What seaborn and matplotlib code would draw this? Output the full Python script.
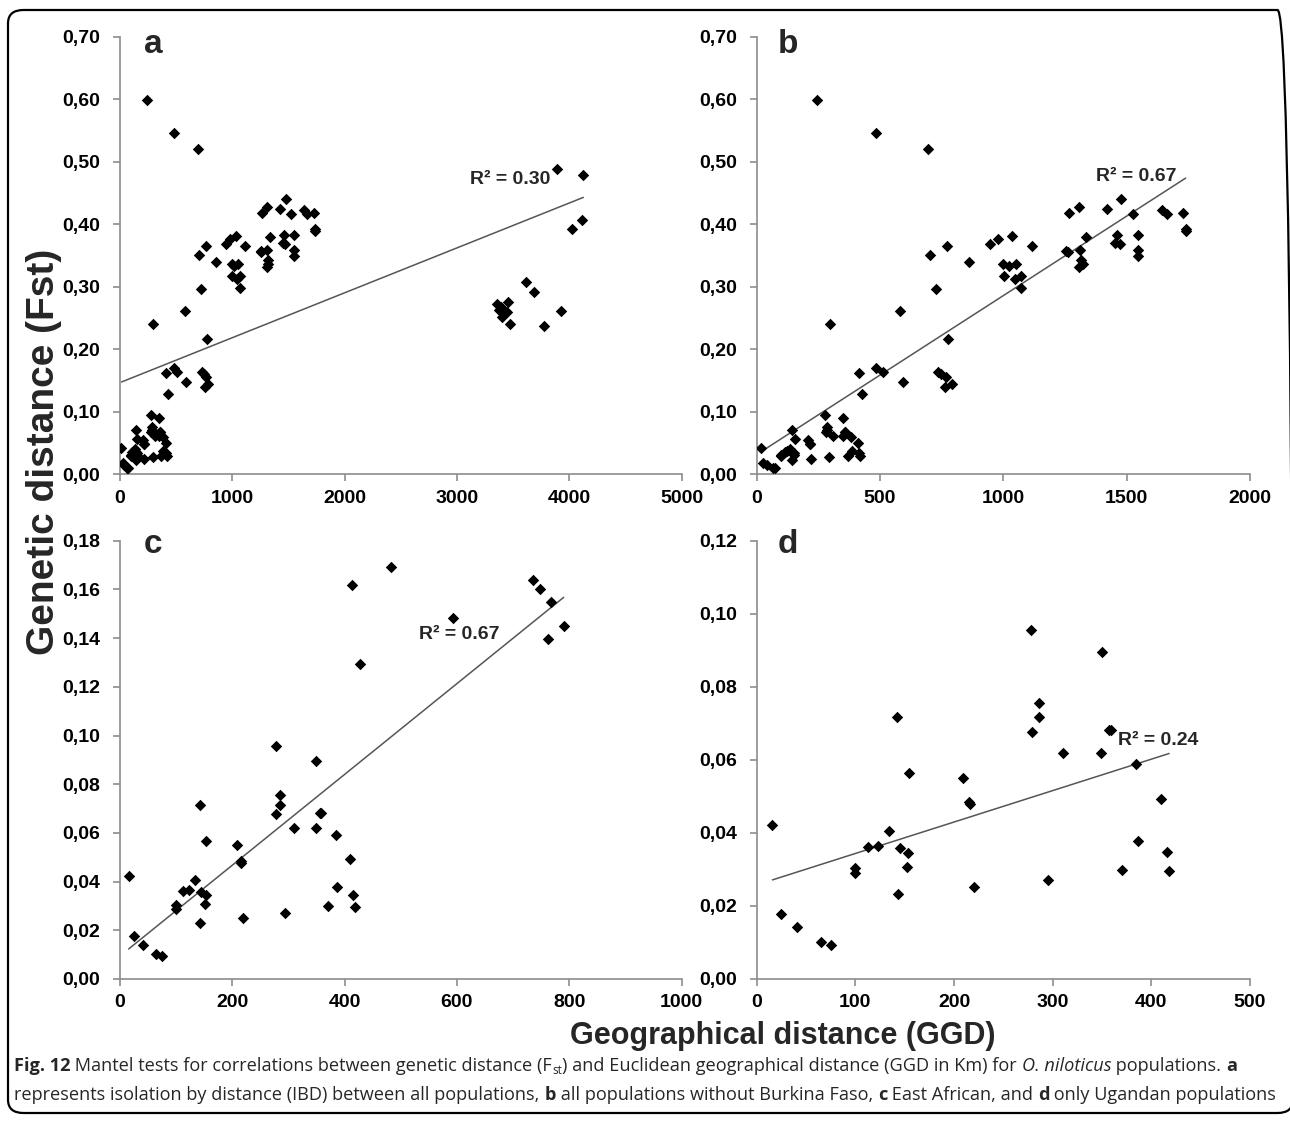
import matplotlib
matplotlib.use("Agg")
import matplotlib.pyplot as plt
from matplotlib.patches import FancyBboxPatch
import seaborn as sns

sns.set_style("ticks")
plt.rcParams['font.family'] = ['Liberation Sans', 'DejaVu Sans']

# panel d: Ugandan populations
d_x = [16, 25, 41, 65, 75, 100, 100, 113, 123, 134, 142, 143, 145, 153, 152, 154, 209, 215,
       216, 220, 278, 279, 286, 286, 295, 310, 349, 350, 357, 359, 370, 384, 386, 410, 416, 418]
d_y = [0.0422, 0.0177, 0.0141, 0.0102, 0.0093, 0.0303, 0.0289, 0.0362, 0.0365, 0.0405, 0.0716,
       0.0232, 0.0358, 0.0344, 0.0308, 0.0565, 0.0549, 0.0484, 0.0478, 0.0251, 0.0955, 0.0677,
       0.0716, 0.0756, 0.0271, 0.0620, 0.0620, 0.0896, 0.0682, 0.0683, 0.0298, 0.0590, 0.0379,
       0.0493, 0.0347, 0.0296]

# extra pairs for panel c (East African)
c_extra_x = [413, 428, 483, 593, 736, 748, 767, 762, 790]
c_extra_y = [0.1618, 0.1292, 0.1693, 0.1484, 0.1639, 0.1600, 0.1550, 0.1395, 0.1451]

# extra pairs for panel b (all without Burkina Faso)
b_extra_x = [245, 482, 693, 298, 581, 726, 703, 772, 861, 945, 979, 1037, 998, 1021, 1050, 1002,
             1047, 1070, 1070, 1116, 1254, 1261, 1265, 1307, 1312, 1307, 1323, 1315, 1335, 1422,
             1476, 1460, 1453, 1472, 1524, 1547, 1547, 1547, 1644, 1662, 1728, 1739, 1739, 777, 512]
b_extra_y = [0.598, 0.546, 0.520, 0.240, 0.261, 0.297, 0.351, 0.365, 0.340, 0.369, 0.377, 0.381,
             0.337, 0.333, 0.337, 0.318, 0.313, 0.317, 0.298, 0.365, 0.357, 0.355, 0.418, 0.428,
             0.359, 0.332, 0.337, 0.343, 0.379, 0.425, 0.441, 0.383, 0.370, 0.368, 0.417, 0.383,
             0.359, 0.349, 0.422, 0.417, 0.418, 0.393, 0.389, 0.216, 0.163]

# extra pairs for panel a (Burkina Faso pairs)
a_extra_x = [3895, 4125, 4115, 4027, 3617, 3682, 3925, 3771, 3361, 3394, 3377, 3410, 3459, 3443, 3404, 3469]
a_extra_y = [0.488, 0.479, 0.407, 0.392, 0.308, 0.292, 0.262, 0.238, 0.273, 0.267, 0.263, 0.259,
             0.275, 0.260, 0.252, 0.241]

c_x = d_x + c_extra_x
c_y = d_y + c_extra_y
b_x = c_x + b_extra_x
b_y = c_y + b_extra_y
a_x = b_x + a_extra_x
a_y = b_y + a_extra_y

r2_labels = ["R² = 0.30", "R² = 0.67", "R² = 0.67", "R² = 0.24"]
panel_letters = ["a", "b", "c", "d"]

yt_ab = [0, 0.1, 0.2, 0.3, 0.4, 0.5, 0.6, 0.7]
yl_ab = ["0,00", "0,10", "0,20", "0,30", "0,40", "0,50", "0,60", "0,70"]
yt_c = [0, 0.02, 0.04, 0.06, 0.08, 0.10, 0.12, 0.14, 0.16, 0.18]
yl_c = ["0,00", "0,02", "0,04", "0,06", "0,08", "0,10", "0,12", "0,14", "0,16", "0,18"]
yt_d = [0, 0.02, 0.04, 0.06, 0.08, 0.10, 0.12]
yl_d = ["0,00", "0,02", "0,04", "0,06", "0,08", "0,10", "0,12"]
xt_a = [0, 1000, 2000, 3000, 4000, 5000]
xt_b = [0, 500, 1000, 1500, 2000]
xt_c = [0, 200, 400, 600, 800, 1000]
xt_d = [0, 100, 200, 300, 400, 500]

W, H = 1290, 1121
fig = plt.figure(figsize=(W / 100, H / 100), dpi=100)


def px_axes(left, top, right, bottom):
    return fig.add_axes([left / W, 1 - bottom / H, (right - left) / W, (bottom - top) / H])


ax_a = px_axes(119.7, 36.7, 681.7, 474.3)
ax_b = px_axes(756.7, 36.7, 1250, 474.3)
ax_c = px_axes(119.7, 540.7, 681.7, 979)
ax_d = px_axes(756.7, 540.7, 1250, 979)

panels = [
    (ax_a, a_x, a_y, xt_a, yt_ab, yl_ab, (3470, 0.471)),
    (ax_b, b_x, b_y, xt_b, yt_ab, yl_ab, (1540, 0.476)),
    (ax_c, c_x, c_y, xt_c, yt_c, yl_c, (605, 0.1413)),
    (ax_d, d_x, d_y, xt_d, yt_d, yl_d, (407, 0.0654)),
]

for i, (ax, xs, ys, xt, yt, yl, rpos) in enumerate(panels):
    sns.regplot(x=xs, y=ys, ax=ax, scatter=False, ci=None, truncate=True,
                line_kws=dict(color="#555555", lw=1.1))
    sns.scatterplot(x=xs, y=ys, ax=ax, marker="D", color="black", s=34,
                    edgecolor="black", linewidth=0, zorder=3)
    ax.set_xlim(xt[0], xt[-1])
    ax.set_ylim(yt[0], yt[-1])
    ax.set_xticks(xt)
    ax.set_xticklabels([str(v) for v in xt])
    ax.set_yticks(yt)
    ax.set_yticklabels(yl)
    sns.despine(ax=ax)
    for s in ["left", "bottom"]:
        ax.spines[s].set_color("#8c8c8c")
        ax.spines[s].set_linewidth(1.2)
    ax.tick_params(axis="both", direction="out", length=5, width=1.2, color="#8c8c8c",
                   labelsize=14, labelcolor="black")
    ax.tick_params(axis="y", pad=9)
    ax.tick_params(axis="x", pad=6)
    for lab in ax.get_xticklabels() + ax.get_yticklabels():
        lab.set_fontweight("bold")
    ax.set_xlabel("")
    ax.set_ylabel("")
    ax.text(0.043, 0.962 if i < 2 else 0.971, panel_letters[i], transform=ax.transAxes,
            fontsize=24, fontweight="bold", ha="left", va="baseline")
    ax.text(rpos[0], rpos[1], r2_labels[i], fontsize=14, fontweight="bold",
            ha="center", va="center")

fig.text(44 / W, 1 - 452 / H, "Genetic distance (Fst)", rotation=90, ha="center", va="center",
         fontsize=28, fontweight="bold")
fig.text(783 / W, 1 - 1036 / H, "Geographical distance (GGD)", ha="center", va="center",
         fontsize=22, fontweight="bold")

# caption with mixed styles
cap_font = ["Open Sans", "DejaVu Sans"]
cap_size = 13.1
line1 = [("Fig. 12", "bold"), (" Mantel tests for correlations between genetic distance (F", "normal"),
         ("st", "sub"), (") and Euclidean geographical distance (GGD in Km) for ", "normal"),
         ("O. niloticus", "italic"), (" populations. ", "normal"), ("a", "bold")]
line2 = [("represents isolation by distance (IBD) between all populations, ", "normal"),
         ("b", "bold"), (" all populations without Burkina Faso, ", "normal"), ("c", "bold"),
         (" East African, and ", "normal"), ("d", "bold"), (" only Ugandan populations", "normal")]

renderer = fig.canvas.get_renderer()


def rich_line(x_px, y_px, parts):
    x = x_px
    for txt, style in parts:
        kw = dict(fontsize=cap_size, family=cap_font, va="baseline", ha="left")
        y = y_px
        if style == "bold":
            kw["fontweight"] = "bold"
        elif style == "italic":
            kw["fontstyle"] = "italic"
        elif style == "sub":
            kw["fontsize"] = cap_size * 0.65
            y = y_px + 3
        t = fig.text(x / W, 1 - y / H, txt, **kw)
        x += t.get_window_extent(renderer).width


rich_line(14, 1071, line1)
rich_line(14, 1100, line2)

fig.patches.append(FancyBboxPatch((8 / W, 1 - 1113 / H), 1285 / W, 1103 / H,
                                  boxstyle="round,pad=0,rounding_size=0.012",
                                  transform=fig.transFigure, fill=False, ec="black", lw=1.6,
                                  figure=fig))

fig.savefig("out.png", dpi=100)
